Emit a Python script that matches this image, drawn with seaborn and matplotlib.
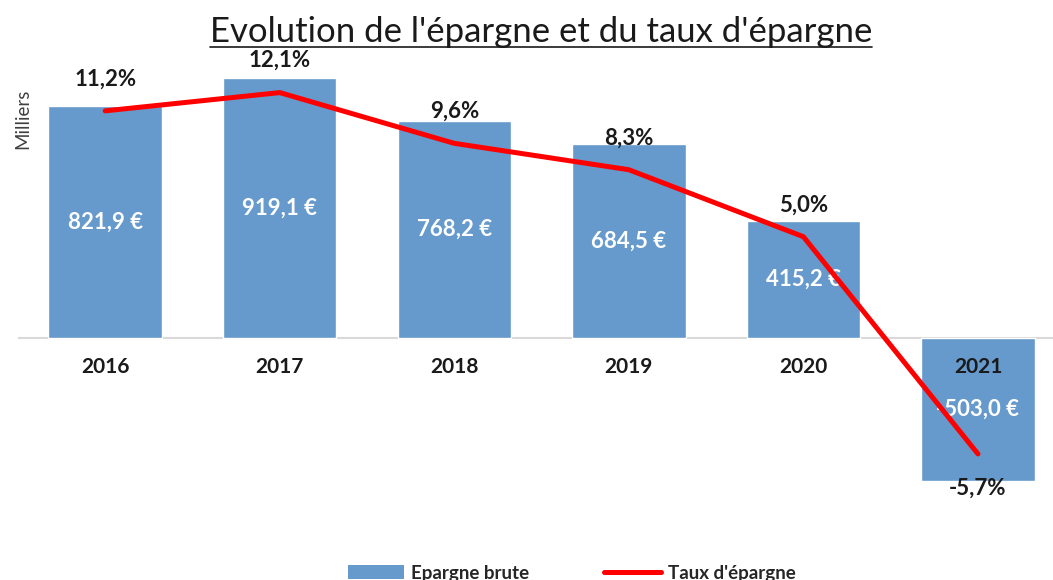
import matplotlib
matplotlib.use("Agg")
import matplotlib.pyplot as plt
import numpy as np
import pandas as pd
import seaborn as sns
from matplotlib.lines import Line2D
from matplotlib.patches import Patch

years = ["2016", "2017", "2018", "2019", "2020", "2021"]
epargne = [821.9, 919.1, 768.2, 684.5, 415.2, -503.0]
taux = [11.2, 12.1, 9.6, 8.3, 5.0, -5.7]

bar_color = "#6699CC"
line_color = "#FF0000"

sns.set_style("white")
plt.rcParams["font.family"] = ["Lato", "DejaVu Sans"]

dat = pd.DataFrame({"pos": np.arange(len(years)), "annee": years,
                    "epargne": epargne, "taux": taux})

fig = plt.figure(figsize=(10.53, 5.8), dpi=100)
ax = fig.add_axes([0.017, 0.124, 0.983, 0.781])

# bars
sns.barplot(data=dat, x="pos", y="epargne", color=bar_color, width=0.65,
            saturation=1, native_scale=True, ax=ax)
ax.set_xlim(-0.5, 5.43)
ax.set_ylim(-600, 1000)

# line on a hidden secondary axis
ax2 = ax.twinx()
sns.lineplot(data=dat, x="pos", y="taux", color=line_color, linewidth=3.6,
             ax=ax2, legend=False)
ax2.set_ylim(-600 / 71.7, 1000 / 71.7)

for a in (ax, ax2):
    for s in a.spines.values():
        s.set_visible(False)
    a.set_yticks([])
    a.set_ylabel("")
    a.set_xlabel("")
ax.set_xticks([])
ax.axhline(0, color="#d9d9d9", linewidth=1.5, xmin=-0.01, zorder=0.5)

# year labels under the zero line
for p, yr in zip(dat["pos"], years):
    ax.annotate(yr, (p, 0), xytext=(0, -21), textcoords="offset points",
                ha="center", va="center", fontsize=15, fontweight="bold",
                color="#1a1a1a")

# bar values inside bars
for p, v in zip(dat["pos"], epargne):
    lab = f"{v:.1f}".replace(".", ",") + " €"
    ax.text(p, v / 2, lab, ha="center", va="center", color="white",
            fontsize=16, fontweight="bold", zorder=5)

# rate labels
for p, t in zip(dat["pos"], taux):
    lab = f"{t:.1f}".replace(".", ",") + "%"
    off = 23 if t > 0 else -25
    ax2.annotate(lab, (p, t), xytext=(0, off), textcoords="offset points",
                 ha="center", va="center", fontsize=16, fontweight="bold",
                 color="#1a1a1a")

fig.text(0.022, 0.795, "Milliers", rotation=90, ha="center", va="center",
         fontsize=13.5, color="#404040")

title = fig.text(0.514, 0.945, "Evolution de l'épargne et du taux d'épargne",
                 ha="center", va="center", fontsize=25, color="#1a1a1a")
fig.canvas.draw()
bb = title.get_window_extent().transformed(fig.transFigure.inverted())
fig.add_artist(Line2D([bb.x0, bb.x1], [bb.y0 + 0.002, bb.y0 + 0.002],
                      transform=fig.transFigure, color="#1a1a1a", linewidth=1.2))

handles = [Patch(facecolor=bar_color, edgecolor="none"),
           Line2D([0], [0], color=line_color, linewidth=3.6)]
fig.legend(handles, ["Epargne brute", "Taux d'épargne"], loc="center",
           bbox_to_anchor=(0.543, 0.012), ncol=2, frameon=False,
           prop={"size": 13.5, "weight": "bold"}, handlelength=3.0,
           columnspacing=4, handletextpad=0.4)

fig.savefig("out.png", dpi=100)
